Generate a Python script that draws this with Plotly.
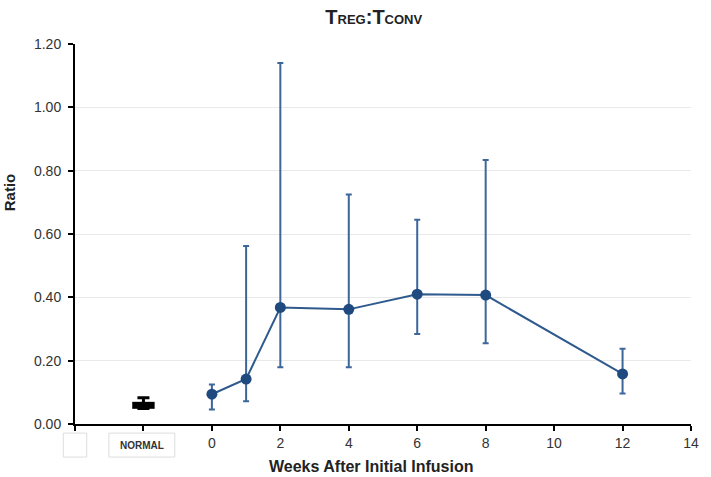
import plotly.graph_objects as go

weeks = [0, 1, 2, 4, 6, 8, 12]
ratio = [0.094, 0.142, 0.368, 0.362, 0.410, 0.407, 0.158]
err_hi = [0.125, 0.562, 1.140, 0.725, 0.645, 0.834, 0.238]
err_lo = [0.046, 0.072, 0.179, 0.179, 0.284, 0.255, 0.096]

normal_x = [-2]
normal_y = [0.059]
normal_hi = [0.083]
normal_lo = [0.049]

tick_vals = [-4, -2, 0, 2, 4, 6, 8, 10, 12, 14]
tick_text = ["", "", "0", "2", "4", "6", "8", "10", "12", "14"]

fig = go.Figure()

fig.add_trace(go.Scatter(
    x=weeks, y=ratio, mode="lines+markers",
    line=dict(color="#2f5a8e", width=2),
    marker=dict(color="#1e4a80", size=11),
    error_y=dict(type="data", symmetric=False,
                 array=[h - v for h, v in zip(err_hi, ratio)],
                 arrayminus=[v - l for v, l in zip(ratio, err_lo)],
                 color="#3d6699", thickness=2, width=3),
    showlegend=False,
))

fig.add_trace(go.Scatter(
    x=normal_x, y=normal_y, mode="markers",
    marker=dict(symbol="line-ew-open", size=16, color="black", line=dict(color="black", width=7)),
    error_y=dict(type="data", symmetric=False,
                 array=[h - v for h, v in zip(normal_hi, normal_y)],
                 arrayminus=[v - l for v, l in zip(normal_y, normal_lo)],
                 color="black", thickness=3, width=6),
    showlegend=False,
))

# label boxes under the first two ticks
fig.add_shape(type="rect", xref="paper", yref="paper", x0=-0.019, x1=0.019, y0=-0.087, y1=-0.024,
              line=dict(color="#dddddd", width=1), fillcolor="white", layer="above")
fig.add_shape(type="rect", xref="paper", yref="paper", x0=0.055, x1=0.162, y0=-0.087, y1=-0.024,
              line=dict(color="#dddddd", width=1), fillcolor="white", layer="above")
fig.add_annotation(x=0.1085, y=-0.056, xref="paper", yref="paper", xanchor="center", yanchor="middle",
                   text="<b>NORMAL</b>",
                   showarrow=False, font=dict(size=10, color="#333333", family="Arial"))

fig.add_annotation(x=-0.107, y=0.61, xref="paper", yref="paper", xanchor="center", yanchor="middle",
                   text="<b>Ratio</b>",
                   textangle=-90, showarrow=False, font=dict(size=15, color="#222222", family="Arial"))
fig.add_annotation(x=0.48, y=-0.111, xref="paper", yref="paper", xanchor="center", yanchor="middle",
                   text="<b>Weeks After Initial Infusion</b>",
                   showarrow=False, font=dict(size=16, color="#222222", family="Arial"))

fig.update_layout(
    width=711, height=477,
    margin=dict(l=75, r=18, t=44, b=53),
    paper_bgcolor="white", plot_bgcolor="white",
    font=dict(family="Arial", size=14, color="#333333"),
    title=dict(text="<b>T<span style='font-size:13px'>REG</span>:T<span style='font-size:13px'>CONV</span></b>",
               xref="paper", x=0.485, xanchor="center", yref="container", y=0.965, yanchor="middle",
               font=dict(size=20, color="#222222", family="Arial")),
    xaxis=dict(range=[-4, 14], tickvals=tick_vals, ticktext=tick_text,
               showgrid=False, zeroline=False, showline=True, linecolor="black", linewidth=2,
               ticks="outside", ticklen=5, tickwidth=2, tickcolor="black"),
    yaxis=dict(range=[0, 1.2], tickvals=[0, 0.2, 0.4, 0.6, 0.8, 1.0, 1.2], tickformat=".2f",
               showgrid=True, gridcolor="#e9e9e9", gridwidth=1, zeroline=False,
               showline=True, linecolor="black", linewidth=2, ticklabelstandoff=4,
               ticks="outside", ticklen=5, tickwidth=2, tickcolor="black"),
)

fig.write_html("out.html", config={"displayModeBar": False},
               post_script="document.body.style.margin='0';document.body.style.overflow='hidden';")
